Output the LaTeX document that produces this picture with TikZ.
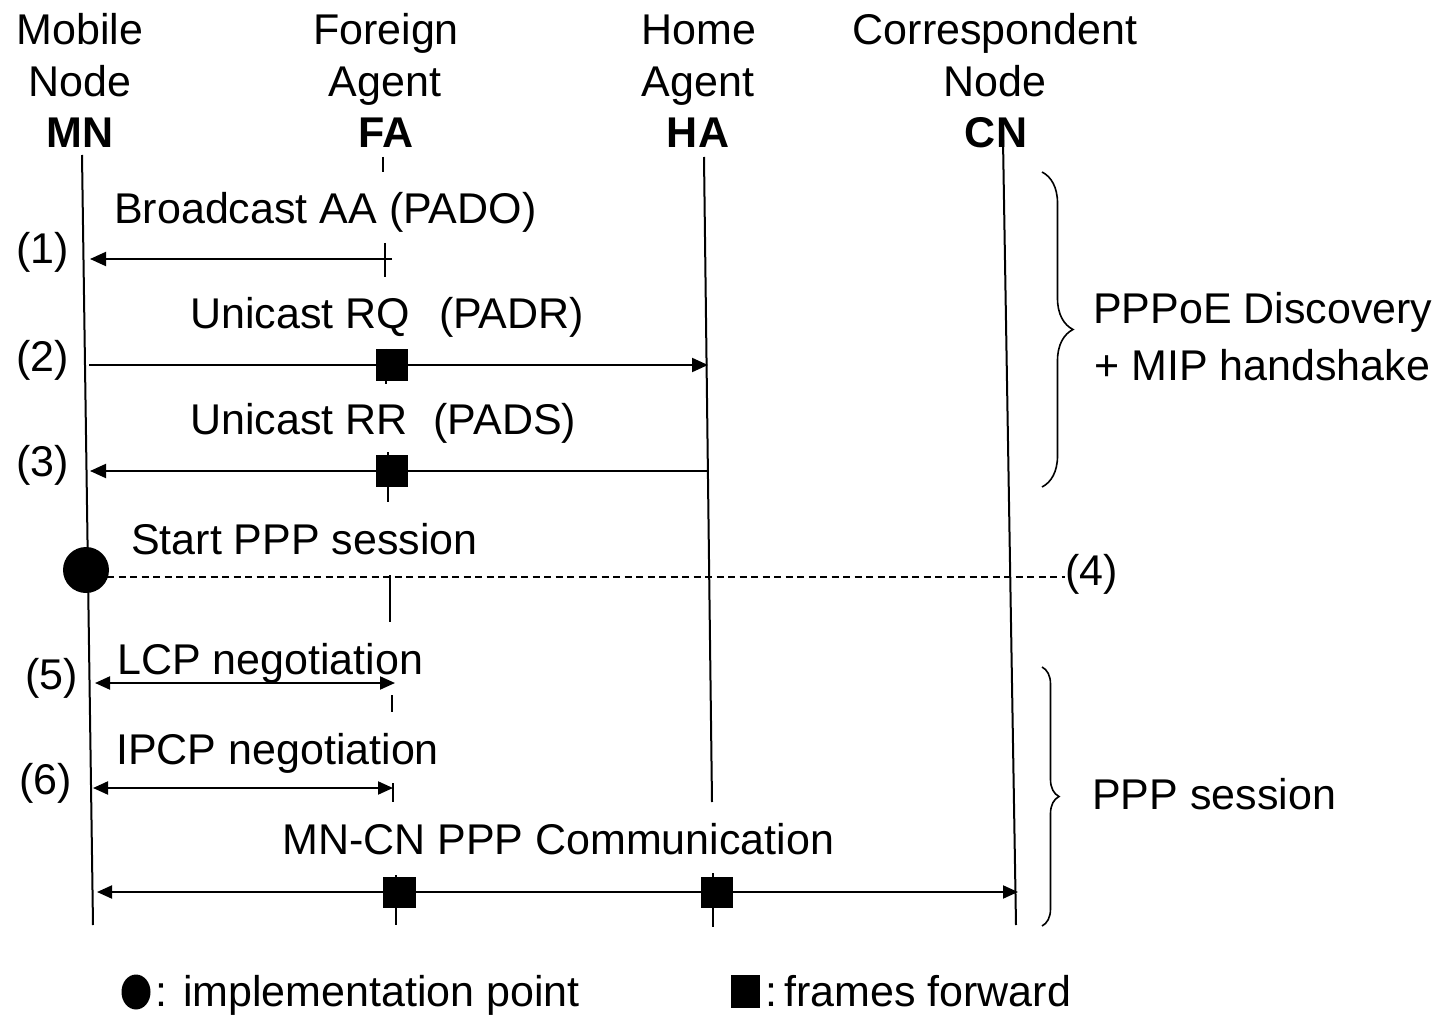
\documentclass[tikz,border=0pt]{standalone}
\usepackage{fontspec}
\setmainfont{Liberation Sans}
\usetikzlibrary{arrows.meta,decorations.pathreplacing,shapes.geometric}

\begin{document}
\begin{tikzpicture}[x=1pt,y=-1pt,
  txt/.style={font=\fontsize{43}{51}\selectfont, inner sep=0pt, anchor=base},
  hdr/.style={txt, font=\fontsize{43}{51}\selectfont\bfseries},
  lbl/.style={txt, anchor=base west},
  life/.style={line width=2pt},
  msg/.style={line width=2pt, -{Triangle[length=16pt,width=14pt]}},
  dmsg/.style={line width=2pt, {Triangle[length=15pt,width=13pt]}-{Triangle[length=15pt,width=13pt]}},
  fwd/.style={rectangle, fill=black, draw=none, inner sep=0pt, minimum width=32pt, minimum height=32pt},
  grp/.style={line width=1.6pt, decorate, decoration={brace, amplitude=#1}},
]
\useasboundingbox (0,0) rectangle (1446,1016);

% participant headings
\node[txt] (mnA) at (80,45) {Mobile};
\node[txt] (mnB) at (80,97) {Node};
\node[hdr] (mnC) at (80,148) {MN};
\node[txt] (faA) at (386,45) {Foreign};
\node[txt] (faB) at (385,97) {Agent};
\node[hdr] (faC) at (386,148) {FA};
\node[txt] (haA) at (699,45) {Home};
\node[txt] (haB) at (698,97) {Agent};
\node[hdr] (haC) at (698,148) {HA};
\node[txt] (cnA) at (995,45) {Correspondent};
\node[txt] (cnB) at (995,97) {Node};
\node[hdr] (cnC) at (996,148) {CN};

% lifelines
\coordinate (mnTop) at (82,155);  \coordinate (mnBot) at (93,925);
\coordinate (haTop) at (704,157); \coordinate (haBot) at (712,802);
\coordinate (haT2) at (713,873);  \coordinate (haB2) at (713,927);
\coordinate (cnTop) at (1003,140); \coordinate (cnBot) at (1016,925);
\draw[life] (mnTop) -- (mnBot);
\draw[life] (haTop) -- (haBot);
\draw[life] (haT2) -- (haB2);
\draw[life] (cnTop) -- (cnBot);

% foreign agent lifeline, broken by the message labels
\coordinate (fa0a) at (383,157); \coordinate (fa0b) at (383,172);
\coordinate (fa1a) at (385,243); \coordinate (fa1b) at (385,277);
\coordinate (fa2a) at (386,349); \coordinate (fa2b) at (386,384);
\coordinate (fa3a) at (388,452); \coordinate (fa3b) at (388,502);
\coordinate (fa4a) at (390,575); \coordinate (fa4b) at (390,622);
\coordinate (fa5a) at (392,695); \coordinate (fa5b) at (392,712);
\coordinate (fa6a) at (393,783); \coordinate (fa6b) at (393,802);
\coordinate (fa7a) at (396,875); \coordinate (fa7b) at (396,925);
\foreach \s in {0,...,7} \draw[life] (fa\s a) -- (fa\s b);

% (1) broadcast agent advertisement
\coordinate (m1s) at (392,259); \coordinate (m1e) at (90,259);
\draw[msg] (m1s) -- (m1e);
\node[lbl] (t1) at (114,224) {Broadcast AA (PADO)};
\node[lbl] (n1) at (16,264) {(1)};

% (2) registration request
\coordinate (m2s) at (89,365); \coordinate (m2e) at (708,365);
\draw[msg] (m2s) -- (m2e);
\node[fwd] (sq2) at (392,365) {};
\node[lbl] (t2) at (190,329) {Unicast RQ\hspace{29pt}(PADR)};
\node[lbl] (n2) at (16,371) {(2)};

% (3) registration reply
\coordinate (m3s) at (709,471); \coordinate (m3e) at (90,471);
\draw[msg] (m3s) -- (m3e);
\node[fwd] (sq3) at (392,471) {};
\node[lbl] (t3) at (190,434) {Unicast RR\hspace{26pt}(PADS)};
\node[lbl] (n3) at (16,476) {(3)};

% (4) start of the PPP session
\node[circle, fill=black, inner sep=0pt, minimum size=46pt] (impl) at (86,570) {};
\coordinate (d4s) at (107,577); \coordinate (d4e) at (1065,577);
\draw[line width=1.5pt, dash pattern=on 7pt off 4.5pt] (d4s) -- (d4e);
\node[lbl] (t4) at (131,554) {Start PPP session};
\node[lbl] (n4) at (1065,585) {(4)};

% (5) LCP
\coordinate (m5s) at (95,683); \coordinate (m5e) at (395,683);
\draw[dmsg] (m5s) -- (m5e);
\node[lbl] (t5) at (117,674) {LCP negotiation};
\node[lbl] (n5) at (25,689) {(5)};

% (6) IPCP
\coordinate (m6s) at (93,788); \coordinate (m6e) at (393,788);
\draw[dmsg] (m6s) -- (m6e);
\node[lbl] (t6) at (116,764) {IPCP negotiation};
\node[lbl] (n6) at (19,794) {(6)};

% end-to-end communication
\coordinate (m7s) at (97,892); \coordinate (m7e) at (1018,892);
\draw[dmsg] (m7s) -- (m7e);
\node[fwd, minimum width=33pt, minimum height=31pt] (sqF) at (399,892) {};
\node[fwd, minimum width=32pt, minimum height=31pt] (sqH) at (717,892) {};
\node[lbl] (t7) at (282,854) {MN-CN PPP Communication};

% phase braces
\coordinate (b1a) at (1042,172); \coordinate (b1b) at (1042,487);
\draw[grp=31pt] (b1a) -- (b1b);
\node[lbl] (p1a) at (1093,324) {PPPoE Discovery};
\node[lbl] (p1b) at (1094,381) {+ MIP handshake};
\coordinate (b2a) at (1042,667); \coordinate (b2b) at (1042,926);
\draw[grp=17pt] (b2a) -- (b2b);
\node[lbl] (p2) at (1092,809) {PPP session};

% legend
\node[ellipse, fill=black, inner sep=0pt, minimum width=29pt, minimum height=35pt] (lgC) at (136,992) {};
\node[lbl] (lgCt) at (155,1006) {: implementation point};
\node[fwd, minimum width=29pt, minimum height=33pt] (lgS) at (745,991) {};
\node[lbl] (lgSt) at (765,1006) {:\,frames forward};
\end{tikzpicture}
\end{document}
